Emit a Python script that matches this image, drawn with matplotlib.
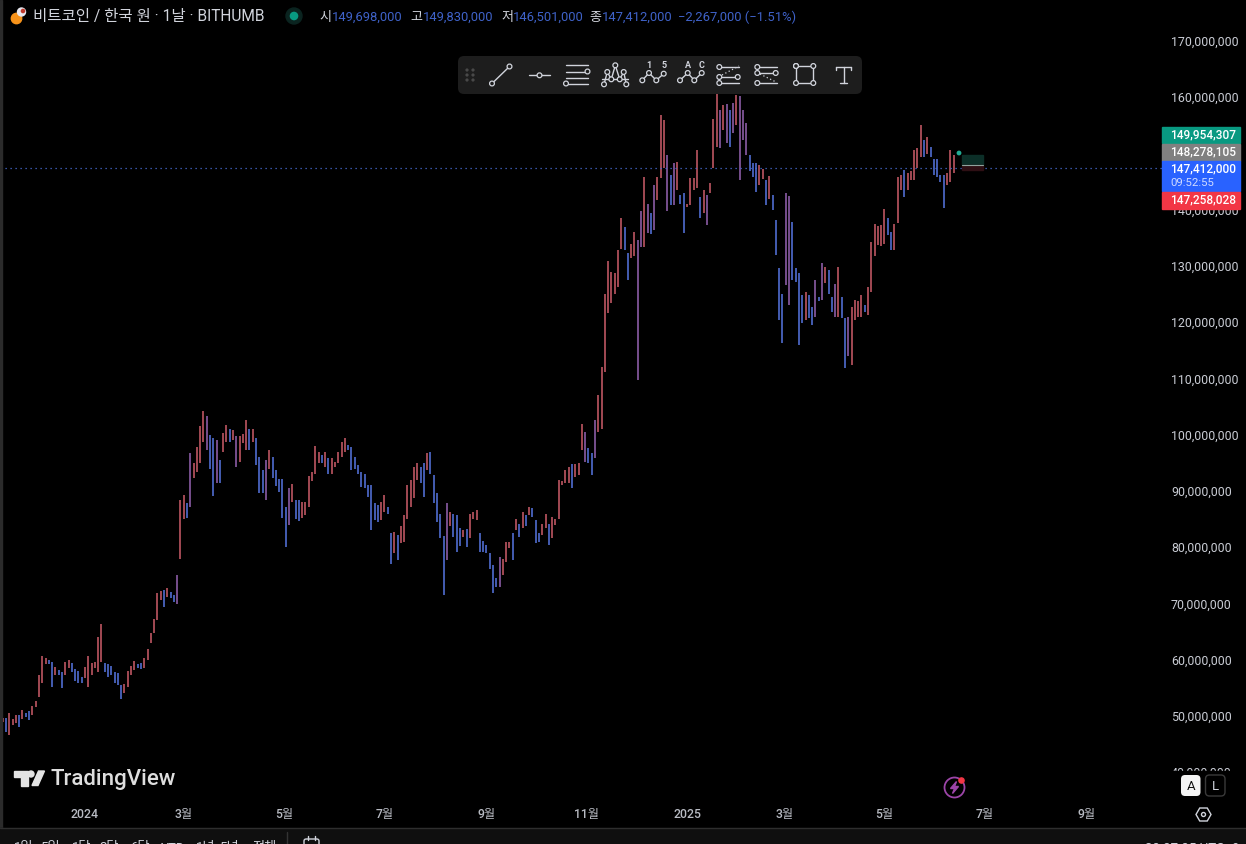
import matplotlib
matplotlib.use("Agg")
import matplotlib.pyplot as plt
import matplotlib.dates as mdates
import numpy as np
import pandas as pd
from matplotlib.patches import Circle, FancyBboxPatch, Polygon, Rectangle

plt.rcParams["font.family"] = ["Roboto", "Noto Sans CJK KR", "DejaVu Sans"]

# prices in millions of won, one bar for every second day
highs = [
    49.6, 49.6, 50.5, 49.4, 50.2, 50.2, 51.1, 50.5, 50.9, 51.8, 52.7, 57.3, 60.6, 60.4, 59.9, 59.6, 58.8, 58.2, 57.9, 59.6,
    59.9, 59.4, 58.3, 58.0, 57.0, 58.8, 60.7, 59.4, 59.6, 64.1, 66.4, 59.4, 59.2, 58.9, 57.9, 57.6, 55.5, 55.7, 58.0, 58.9,
    59.8, 59.2, 59.4, 60.3, 62.0, 64.7, 67.2, 71.8, 72.3, 72.4, 72.7, 72.1, 71.5, 75.1, 88.4, 89.3, 87.8, 96.7, 95.0, 97.9,
    101.6, 104.2, 103.3, 100.0, 99.4, 99.0, 95.5, 100.4, 101.7, 101.1, 100.8, 99.7, 99.7, 100.2, 102.7, 101.1, 101.1, 99.4, 96.1, 93.7,
    95.5, 97.3, 96.1, 93.7, 92.2, 92.1, 87.2, 90.6, 91.2, 88.4, 88.4, 88.1, 88.1, 92.7, 93.4, 98.0, 97.0, 96.4, 97.0, 95.8,
    95.8, 95.2, 97.0, 98.8, 99.4, 98.2, 97.9, 96.1, 94.6, 93.4, 93.1, 91.0, 91.0, 87.8, 87.5, 88.1, 89.3, 87.2, 82.5, 82.8,
    82.2, 83.7, 85.7, 91.0, 92.0, 94.3, 95.0, 94.3, 94.9, 96.7, 97.0, 92.8, 89.6, 86.0, 82.0, 87.8, 86.3, 86.0, 85.7, 83.4,
    83.0, 83.2, 86.0, 86.3, 86.7, 82.5, 81.2, 80.4, 78.9, 76.8, 74.5, 78.3, 78.0, 81.0, 81.0, 82.5, 85.1, 84.2, 86.3, 85.7,
    87.2, 86.9, 84.8, 82.5, 84.1, 86.0, 84.2, 85.4, 85.1, 92.0, 91.7, 93.7, 94.3, 94.8, 94.8, 94.9, 101.9, 100.5, 97.6, 96.7,
    102.6, 107.0, 112.0, 125.0, 130.8, 129.0, 128.7, 132.8, 138.5, 137.0, 132.3, 134.0, 136.1, 134.6, 139.7, 145.8, 141.1, 139.5, 144.4, 145.8,
    156.9, 156.0, 149.7, 146.2, 148.3, 148.5, 142.6, 142.9, 141.1, 145.6, 145.6, 150.7, 142.3, 143.5, 142.6, 144.7, 156.2, 160.6, 157.7, 158.6,
    158.8, 157.7, 159.0, 160.4, 160.2, 157.7, 155.4, 149.7, 148.4, 148.3, 148.0, 147.2, 145.3, 146.0, 142.6, 138.2, 129.6, 125.1, 143.0, 142.4,
    137.9, 129.6, 128.7, 124.8, 125.3, 124.8, 122.8, 127.5, 124.5, 130.6, 129.9, 129.3, 124.5, 126.8, 129.9, 124.5, 120.7, 121.0, 122.7, 124.0,
    123.7, 124.8, 123.1, 126.3, 134.3, 137.5, 137.1, 137.3, 140.1, 138.5, 136.1, 137.5, 145.9, 146.2, 147.1, 146.5, 146.8, 150.6, 151.0, 155.1,
    152.4, 153.0, 151.2, 149.1, 149.1, 146.2, 146.2, 146.5, 150.6, 149.7,
]
lows = [
    49.0, 47.2, 46.6, 48.4, 48.7, 48.1, 49.4, 49.8, 49.3, 50.2, 51.6, 53.4, 55.8, 59.2, 59.2, 55.2, 57.3, 57.3, 54.9, 57.3,
    58.6, 57.9, 56.3, 55.8, 55.9, 56.7, 55.1, 57.3, 58.5, 57.9, 59.6, 57.9, 57.0, 57.3, 55.8, 55.5, 53.1, 54.1, 55.2, 57.3,
    58.2, 58.5, 58.3, 58.5, 60.0, 63.0, 64.7, 67.1, 70.6, 69.4, 71.2, 70.9, 70.3, 70.0, 78.0, 85.0, 85.2, 87.2, 92.3, 93.4,
    94.9, 98.8, 97.3, 94.0, 89.1, 91.4, 91.5, 97.0, 98.8, 98.8, 99.1, 94.3, 95.2, 98.5, 97.3, 97.3, 98.8, 94.6, 89.7, 89.6,
    88.4, 94.0, 92.3, 90.9, 89.9, 85.2, 80.1, 84.0, 88.1, 85.0, 84.7, 85.2, 85.8, 87.2, 91.7, 93.1, 95.0, 94.9, 94.3, 93.1,
    93.1, 94.3, 94.9, 96.1, 97.0, 97.3, 93.7, 94.0, 93.1, 90.8, 90.5, 89.0, 83.1, 84.9, 84.5, 84.9, 86.3, 86.0, 77.1, 78.9,
    77.7, 80.7, 81.0, 85.1, 87.2, 88.7, 92.0, 91.4, 89.0, 93.7, 93.1, 87.8, 84.5, 81.6, 71.5, 77.7, 83.7, 81.9, 79.2, 80.2,
    81.9, 80.0, 81.6, 85.1, 84.8, 79.2, 79.2, 78.9, 76.2, 71.9, 73.0, 73.0, 75.0, 77.4, 79.8, 77.7, 83.0, 81.9, 83.4, 83.8,
    85.7, 85.4, 80.7, 81.0, 82.2, 83.4, 80.4, 81.6, 83.9, 85.0, 91.0, 91.4, 91.4, 90.5, 92.5, 92.8, 97.3, 95.2, 94.9, 92.8,
    95.8, 100.5, 101.0, 111.2, 121.6, 123.4, 125.1, 126.3, 133.1, 132.8, 127.5, 131.4, 131.7, 109.7, 133.4, 133.4, 135.8, 135.7, 136.4, 141.7,
    145.6, 147.4, 139.7, 140.8, 140.8, 143.5, 141.1, 135.9, 140.5, 140.8, 143.5, 143.8, 138.5, 139.4, 137.3, 142.9, 147.4, 151.2, 150.9, 154.2,
    151.8, 151.2, 153.7, 155.0, 145.3, 152.4, 149.7, 146.8, 145.9, 143.2, 144.4, 145.4, 140.8, 142.0, 140.0, 132.0, 120.4, 116.3, 126.6, 123.1,
    127.5, 127.2, 116.0, 119.8, 120.4, 120.7, 119.5, 121.0, 123.7, 124.0, 127.0, 125.1, 121.9, 121.0, 121.0, 120.7, 111.8, 114.0, 112.4, 120.4,
    121.0, 121.0, 121.9, 121.3, 125.4, 131.7, 133.7, 133.6, 134.0, 135.5, 132.8, 132.8, 137.6, 143.5, 142.3, 143.5, 145.3, 145.3, 147.4, 149.4,
    149.4, 150.0, 149.4, 146.2, 145.9, 145.0, 140.4, 144.4, 145.0, 146.5,
]
bar_dates = pd.date_range("2023-11-12", periods=len(highs), freq="2D")

price_ticks = [40, 50, 60, 70, 80, 90, 100, 110, 120, 130, 140, 150, 160, 170]
time_ticks = ["2024-01-01", "2024-03-01", "2024-05-01", "2024-07-01", "2024-09-01", "2024-11-01",
              "2025-01-01", "2025-03-01", "2025-05-01", "2025-07-01", "2025-09-01"]
time_labels = ["2024", "3월", "5월", "7월", "9월", "11월", "2025", "3월", "5월", "7월", "9월"]
last_price = 147.412

ohlc_names = ["시", "고", "저", "종"]
ohlc_values = ["149,698,000", "149,830,000", "146,501,000", "147,412,000"]
range_names = ["1일", "5일", "1달", "3달", "6달", "YTD", "1년", "5년", "전체"]
tag_texts = ["149,954,307", "148,278,105", "147,412,000", "147,258,028"]

UP = "#b5525e"
DOWN = "#4d68c8"
MIXED = "#85589f"
TEXT = "#c9ccd4"
BLUE = "#3f62c8"
TOOL = "#d1d4dc"
BAR_BG = "#1d1d1d"

W, H = 1246, 844
fig = plt.figure(figsize=(W / 100, H / 100), dpi=100, facecolor="black")

# main chart: 1.645 px per day, 5.625 px per million
chart_right, chart_bottom = 1162, 797
ax = fig.add_axes([0, 1 - chart_bottom / H, chart_right / W, chart_bottom / H], facecolor="black")
jan1 = mdates.date2num(pd.Timestamp("2024-01-01"))
ax.set_xlim(jan1 - 85 / 1.645, jan1 + (chart_right - 85) / 1.645)
ax.set_ylim(170 - (chart_bottom - 41) / 5.625, 170 + 41 / 5.625)

highs_a = np.array(highs)
lows_a = np.array(lows)
mids = (highs_a + lows_a) / 2
rising = np.r_[True, mids[1:] >= mids[:-1]]
# red up, blue down; where the direction turns the real chart blurs to purple
turning = np.r_[False, rising[1:] != rising[:-1]]
bar_colors = [MIXED if t and h - l > 5 else (UP if r else DOWN) for r, t, h, l in zip(rising, turning, highs_a, lows_a)]
ax.vlines(mdates.date2num(bar_dates), lows_a, highs_a, colors=bar_colors, linewidth=1.25)
ax.axhline(last_price, color="#4a6fd8", linewidth=0.9, linestyle=(0, (1, 3)))

ax.yaxis.tick_right()
ax.set_yticks(price_ticks)
ax.set_yticklabels([f"{p * 1000000:,}" for p in price_ticks], color=TEXT, fontsize=8.9)
ax.set_xticks(mdates.date2num(pd.to_datetime(time_ticks)))
ax.set_xticklabels(time_labels, color="#b8bbc3", fontsize=8.8, fontweight="medium")
ax.tick_params(axis="y", length=0, pad=6.5)
ax.tick_params(axis="x", length=0, pad=8)
for spine in ax.spines.values():
    spine.set_visible(False)

# everything that sits on top of the chart, in screen pixels
ov = fig.add_axes([0, 0, 1, 1], facecolor="none")
ov.set_xlim(0, W)
ov.set_ylim(H, 0)
ov.axis("off")


def seg(x0, y0, x1, y1, color=TOOL, lw=1.0, **kw):
    ov.plot([x0, x1], [y0, y1], color=color, linewidth=lw, solid_capstyle="round", zorder=6, **kw)


def ring(x, y, r=2.4):
    ov.add_patch(Circle((x, y), r, facecolor=BAR_BG, edgecolor=TOOL, linewidth=0.9, zorder=7))


def chain(points):
    for (x0, y0), (x1, y1) in zip(points[:-1], points[1:]):
        seg(x0, y0, x1, y1)
    for x, y in points:
        ring(x, y)


# frame and bottom bar
ov.add_patch(Rectangle((0, 0), 2, 844, color="#2b2b2b", zorder=1))
ov.add_patch(Rectangle((0, 828), W, 16, color="#0f0f0f", zorder=1))
seg(0, 828, W, 828, color="#2e2e2e", lw=1.0)
range_x = [24, 51, 82, 109, 140, 173, 206, 230, 264]
for name, x in zip(range_names, range_x):
    ov.text(x, 848, name, color=TOOL, fontsize=9.5, ha="center", va="center", zorder=6)
seg(287, 832, 287, 844, color="#333333")
ov.add_patch(FancyBboxPatch((304, 839), 15, 10, boxstyle="round,pad=0,rounding_size=2", facecolor="none",
                            edgecolor=TOOL, linewidth=1, zorder=6))
seg(308, 836, 308, 840)
seg(315, 836, 315, 840)
ov.text(1240, 848, "20:07:05 UTC+9", color=TOOL, fontsize=9.5, ha="right", va="center", zorder=6)

# legend line
ov.add_patch(Circle((16.5, 18.5), 5.2, color="#f7931a", zorder=5))
ov.add_patch(Circle((21.5, 12), 4, color="#e8e8f0", zorder=6))
ov.add_patch(Circle((23, 11), 1.6, color="#c0392b", zorder=7))
ov.text(33, 17, "비트코인 / 한국 원 · 1날 · BITHUMB", color=TOOL, fontsize=11.2, va="center", zorder=6)
ov.add_patch(Circle((294, 16), 8, color="#0b2420", zorder=5))
ov.add_patch(Circle((294, 16), 3.6, color="#089981", zorder=6))
name_x = [319, 410, 501, 589]
value_x = [332, 423, 513, 602]
for n, v, nx, vx in zip(ohlc_names, ohlc_values, name_x, value_x):
    ov.text(nx, 17, n, color=TOOL, fontsize=9.4, va="center", zorder=6)
    ov.text(vx, 17, v, color=BLUE, fontsize=9.4, va="center", zorder=6)
ov.text(678, 17, "−2,267,000 (−1.51%)", color=BLUE, fontsize=9.4, va="center", zorder=6)

# drawing toolbar
ov.add_patch(FancyBboxPatch((458, 56), 404, 38, boxstyle="round,pad=0,rounding_size=6", facecolor=BAR_BG,
                            edgecolor="none", zorder=4))
for x in (467, 473):
    for y in (70, 75, 80):
        ov.add_patch(Circle((x, y), 0.9, color="#4a4a4a", zorder=5))
chain([(492, 83.5), (509.5, 66.5)])
seg(529, 75.3, 550, 75.3)
ring(539.5, 75.3)
seg(566, 65, 588, 65)
seg(566, 71.5, 588, 71.5)
seg(566, 77.5, 588, 77.5)
seg(566, 83.5, 588, 83.5)
ring(587.5, 71.5)
ring(566, 83.5)
seg(602, 79, 628, 79)
chain([(604, 84.3), (607.3, 72), (611.3, 79.3), (615.3, 65.3), (619.7, 79.3), (623.7, 72), (626.3, 84.3)])
chain([(642.3, 80.3), (649, 73), (656.3, 80.3), (663.7, 73.7)])
chain([(680, 80.3), (687.7, 73), (694.3, 80.3), (701.7, 73)])
for label, x in zip(["1", "5", "A", "C"], [649, 663.7, 687.7, 701.7]):
    ov.text(x, 65, label, color=TOOL, fontsize=6.5, fontweight="bold", ha="center", va="center", zorder=7)
seg(720, 67, 739, 67)
seg(720, 77, 738, 77)
seg(720, 83, 739, 83)
ov.plot([722, 739], [75, 66], color=TOOL, linewidth=0.9, linestyle=(0, (1, 2)), zorder=6)
for x, y in [(719.3, 67), (719.3, 77), (737.7, 77), (719.3, 83)]:
    ring(x, y)
seg(758, 67, 777, 67)
seg(758, 73, 775, 73)
seg(758, 83, 777, 83)
ov.plot([760, 776], [74, 82], color=TOOL, linewidth=0.9, linestyle=(0, (1, 2)), zorder=6)
for x, y in [(757.3, 67), (757.3, 73), (775.7, 73), (757.3, 83)]:
    ring(x, y)
chain([(796, 66), (813.3, 66), (813.3, 83), (796, 83), (796, 66)])
seg(836, 67, 851, 67)
seg(843.5, 67, 843.5, 83)
seg(840, 83, 847, 83)
seg(836, 67, 836, 70)
seg(851, 67, 851, 70)

# price tags and the small position box
ov.add_patch(Rectangle((962, 155), 21, 9.5, color="#0c2f28", zorder=3))
ov.add_patch(Rectangle((962, 165), 21, 5, color="#2e0f14", zorder=3))
seg(962, 164.5, 983, 164.5, color="#8fa39d", lw=0.8)
ov.add_patch(Circle((959, 153), 1.7, color="#22ab94", zorder=4))
tag_boxes = [(127, 16, "#089981"), (144, 16.5, "#808080"), (161, 30, "#2962ff"), (192, 16.5, "#f23645")]
tag_y = [135, 152, 169, 200]
for (top, height, color), text, y in zip(tag_boxes, tag_texts, tag_y):
    ov.add_patch(Rectangle((1162, top), 78, height, color=color, zorder=5))
    ov.text(1170, y, text, color="white", fontsize=8.6, fontweight="medium", va="center", zorder=6)
ov.text(1170, 183, "09:52:55", color="#cfdaff", fontsize=8.2, va="center", zorder=6)

# watermark
ov.add_patch(Polygon([(13.5, 771), (27.5, 771), (27.5, 785.5), (20.5, 785.5), (20.5, 777), (13.5, 777)],
                     color="#e4e4e4", zorder=6))
ov.add_patch(Circle((31, 774), 3, color="#e4e4e4", zorder=6))
ov.add_patch(Polygon([(38.5, 771), (44.5, 771), (38, 785.5), (32, 785.5)], color="#e4e4e4", zorder=6))
ov.text(50.5, 779, "TradingView", color="#dedede", fontsize=16, fontweight="medium", va="center", zorder=6)

# lightning badge, scale buttons, settings
ov.add_patch(Rectangle((1165, 771), 76, 26, color="black", zorder=3))
ov.add_patch(Circle((954.5, 787.5), 10, facecolor="none", edgecolor="#9c45a8", linewidth=1.3, zorder=6))
ov.add_patch(Polygon([(956.5, 781.5), (950.5, 788.5), (954.5, 788.5), (952.5, 793.5), (958.5, 786.5), (954.5, 786.5)],
                     color="#9c45a8", zorder=6))
ov.add_patch(Circle((961.5, 780.5), 2.6, color="#f23645", zorder=7))
ov.add_patch(FancyBboxPatch((1181, 775), 19.5, 21, boxstyle="round,pad=0,rounding_size=4", facecolor="#f5f5f5",
                            edgecolor="none", zorder=6))
ov.text(1190.7, 786, "A", color="#111111", fontsize=9.5, ha="center", va="center", zorder=7)
ov.add_patch(FancyBboxPatch((1205.5, 775), 19.5, 21, boxstyle="round,pad=0,rounding_size=4", facecolor="black",
                            edgecolor="#3a3a3a", linewidth=1, zorder=6))
ov.text(1215.2, 786, "L", color=TOOL, fontsize=9.5, ha="center", va="center", zorder=7)
ang = np.deg2rad([0, 60, 120, 180, 240, 300])
ov.add_patch(Polygon(np.c_[1203.5 + 7.5 * np.cos(ang), 814.5 + 7.5 * np.sin(ang)], facecolor="none", edgecolor=TOOL,
                     linewidth=1, zorder=6))
ov.add_patch(Circle((1203.5, 814.5), 2, facecolor="none", edgecolor=TOOL, linewidth=1, zorder=6))

fig.savefig("out.png", dpi=100, facecolor="black")
